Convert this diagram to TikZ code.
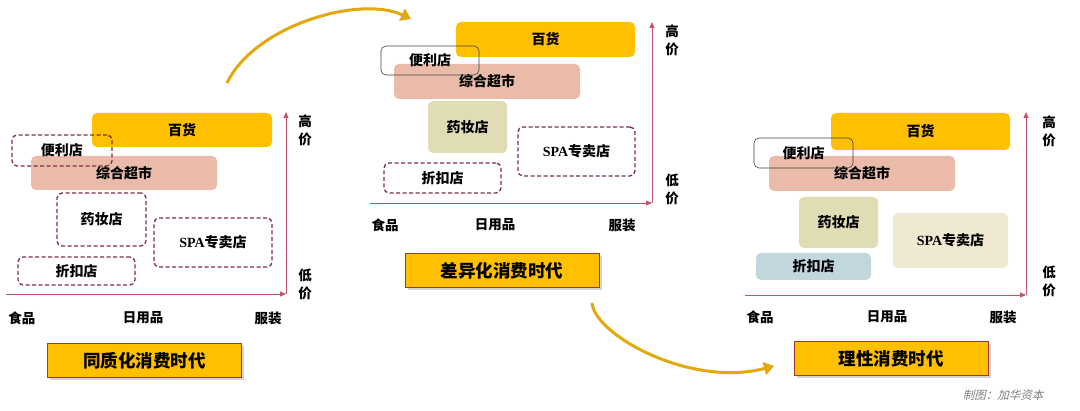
\documentclass[tikz,border=0pt]{standalone}
\usepackage{fontspec}
\setmainfont{Liberation Serif}
\newfontfamily\latbf{Liberation Serif Bold}
\newfontfamily\cjk{Noto Sans CJK SC}
\newfontfamily\cjkslant{Noto Sans CJK SC}[FakeSlant=0.25]
\usetikzlibrary{arrows.meta,shadows}
\definecolor{gold}{HTML}{FFC000}
\definecolor{salmon}{HTML}{EBBBAA}
\definecolor{olive}{HTML}{E0DCB4}
\definecolor{sand}{HTML}{EFE9D2}
\definecolor{paleblue}{HTML}{C2D6DE}
\definecolor{maroon}{HTML}{7E2E45}
\definecolor{axisred}{HTML}{C2556E}
\definecolor{brownred}{HTML}{9C3B2B}
\definecolor{arrowgold}{HTML}{E3A90C}
\definecolor{credit}{HTML}{7F7F7F}
\begin{document}
\begin{tikzpicture}[x=1pt, y=-1pt,
    box/.style = {rounded corners=5pt, inner sep=0pt, font=\cjk\bfseries\fontsize{14}{16}\selectfont},
    dbox/.style = {box, draw=maroon, line width=1.3pt, dash pattern=on 4pt off 2.5pt},
    lbox/.style = {box, draw=black!75, line width=0.6pt},
    axis/.style = {draw=axisred, line width=0.8pt, -{Triangle[width=5pt,length=6pt]}},
    tick/.style = {font=\cjk\bfseries\fontsize{13.5}{18}\selectfont, align=center},
    era/.style = {fill=gold, draw=brownred, line width=1pt, minimum width=194pt, minimum height=34pt,
        drop shadow={shadow xshift=2.5pt, shadow yshift=-2.5pt, opacity=0.35},
        font=\cjk\bfseries\fontsize{17.5}{20}\selectfont},
    flow/.style = {draw=arrowgold, line width=3pt, -{Triangle[width=13pt,length=10pt]}}]
    \useasboundingbox (0,0) rectangle (1080,411);

    % homogeneous era
    \node[box, fill=gold, minimum width=180pt, minimum height=34pt] (bh1) at (182,130) {百货};
    \node[box, fill=salmon, minimum width=186pt, minimum height=34pt] (zh1) at (124,173) {综合超市};
    \node[dbox, minimum width=100pt, minimum height=31pt] (bl1) at (62,150.5) {便利店};
    \node[dbox, minimum width=89pt, minimum height=53pt] (yz1) at (101.5,219.5) {药妆店};
    \node[dbox, minimum width=118pt, minimum height=49pt] (spa1) at (213,242.5) {{\latbf SPA}专卖店};
    \node[dbox, minimum width=117pt, minimum height=28pt] (zk1) at (76.5,271) {折扣店};

    \coordinate (o1) at (286,294);
    \coordinate (xl1) at (6,294);
    \coordinate (yt1) at (286,112);
    \draw[axis] (xl1) -- (o1);
    \draw[axis] (o1) -- (yt1);
    \node[tick] (hi1) at (305,130) {高\\价};
    \node[tick] (lo1) at (305,284) {低\\价};
    \node[tick] (sp1) at (22,318) {食品};
    \node[tick] (ry1) at (143,318) {日用品};
    \node[tick] (fz1) at (268,318) {服装};
    \node[era] (t1) at (144.5,361) {同质化消费时代};

    % differentiated era
    \node[box, fill=gold, minimum width=179pt, minimum height=35pt] (bh2) at (545.5,39.5) {百货};
    \node[box, fill=salmon, minimum width=186pt, minimum height=35pt] (zh2) at (487,81.5) {综合超市};
    \node[lbox, minimum width=98pt, minimum height=29pt] (bl2) at (430,60.5) {便利店};
    \node[box, fill=olive, minimum width=79pt, minimum height=52pt] (yz2) at (467.5,127) {药妆店};
    \node[dbox, minimum width=117pt, minimum height=49pt] (spa2) at (576.5,151.5) {{\latbf SPA}专卖店};
    \node[dbox, minimum width=117pt, minimum height=30pt] (zk2) at (442.5,178) {折扣店};

    \coordinate (o2) at (652,203);
    \coordinate (xl2) at (370,203);
    \coordinate (yt2) at (652,22);
    \draw[axis] (xl2) -- (o2);
    \draw[axis] (o2) -- (yt2);
    \node[tick] (hi2) at (672,40) {高\\价};
    \node[tick] (lo2) at (672,189) {低\\价};
    \node[tick] (sp2) at (385,225) {食品};
    \node[tick] (ry2) at (495,225) {日用品};
    \node[tick] (fz2) at (622,225) {服装};
    \node[era] (t2) at (502,270.5) {差异化消费时代};

    % rational era
    \node[box, fill=gold, minimum width=179pt, minimum height=37pt] (bh3) at (920.5,131.5) {百货};
    \node[box, fill=salmon, minimum width=186pt, minimum height=35pt] (zh3) at (862,173.5) {综合超市};
    \node[lbox, minimum width=99pt, minimum height=30pt] (bl3) at (803.5,153) {便利店};
    \node[box, fill=olive, minimum width=79pt, minimum height=51pt] (yz3) at (838.5,222.5) {药妆店};
    \node[box, fill=sand, minimum width=115pt, minimum height=55pt] (spa3) at (950.5,240.5) {{\latbf SPA}专卖店};
    \node[box, fill=paleblue, minimum width=115pt, minimum height=27pt] (zk3) at (813.5,266.5) {折扣店};

    \coordinate (o3) at (1026,295);
    \coordinate (xl3) at (745,295);
    \coordinate (yt3) at (1026,112);
    \draw[axis] (xl3) -- (o3);
    \draw[axis] (o3) -- (yt3);
    \node[tick] (hi3) at (1049,131) {高\\价};
    \node[tick] (lo3) at (1049,281) {低\\价};
    \node[tick] (sp3) at (760,317) {食品};
    \node[tick] (ry3) at (887,317) {日用品};
    \node[tick] (fz3) at (1003,317) {服装};
    \node[era] (t3) at (891,359) {理性消费时代};

    \node[text=credit, font=\cjkslant\fontsize{11.5}{13}\selectfont] (src) at (1003,395) {制图：加华资本};

    % transitions
    \coordinate (a1s) at (227,83);
    \coordinate (a1e) at (411,19);
    \coordinate (a2s) at (592,303);
    \coordinate (a2e) at (774,366);
    \draw[flow] (a1s) .. controls (255,25) and (360,-5) .. (a1e);
    \draw[flow] (a2s) .. controls (595,335) and (690,388) .. (a2e);
\end{tikzpicture}
\end{document}
